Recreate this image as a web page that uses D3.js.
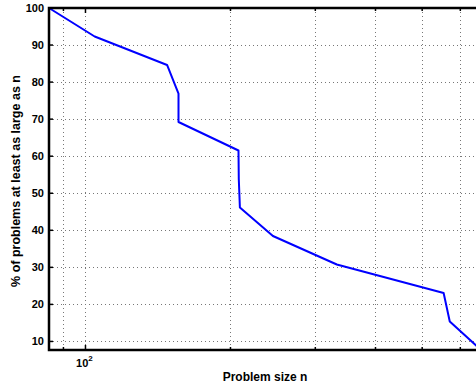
<!DOCTYPE html>
<html>
<head>
<meta charset="utf-8">
<script src="https://cdn.jsdelivr.net/npm/d3@7"></script>
<style>
  body { margin: 0; background: #fff; }
  text { font-family: "Liberation Sans", Arial, sans-serif; font-weight: bold; fill: #000; }
</style>
</head>
<body>
<script>
// problem size n vs % of problems at least that large
var problemSize = [84, 104.5, 147.7, 156, 156, 207.8, 208.1, 209.2, 245, 332.5, 554, 570.5, 663];
var percent = [100, 92.31, 84.62, 76.92, 69.23, 61.54, 53.85, 46.15, 38.46, 30.77, 23.08, 15.38, 7.69];
var yTicks = [10, 20, 30, 40, 50, 60, 70, 80, 90, 100];
var xGrid = [90, 100, 200, 300, 400, 500, 600];

window.onload = drawChart;

function drawChart(){
    var w = 476, h = 390;
    var left = 49, top = 8, bottom = 350;

    var svg = d3.select("body").append("svg")
        .attr("width", w)
        .attr("height", h);

    // log axis, about 481.7px per decade
    var xMin = 84, xMax = 663;
    var x = d3.scaleLog()
        .domain([xMin, xMax])
        .range([left, left + 481.7 * Math.log10(xMax / xMin)]);
    var y = d3.scaleLinear()
        .domain([7.69, 100])
        .range([bottom, top]);
    var right = x.range()[1];

    //grid
    var grid = svg.append("g")
        .attr("stroke", "#777")
        .attr("stroke-width", 1)
        .attr("stroke-dasharray", "1,3");
    grid.selectAll(".vg").data(xGrid).enter().append("line")
        .attr("x1", function(d){ return Math.round(x(d)) + 0.5; })
        .attr("x2", function(d){ return Math.round(x(d)) + 0.5; })
        .attr("y1", top).attr("y2", bottom);
    grid.selectAll(".hg").data(yTicks.filter(function(d){ return d < 100; })).enter().append("line")
        .attr("y1", function(d){ return Math.round(y(d)) + 0.5; })
        .attr("y2", function(d){ return Math.round(y(d)) + 0.5; })
        .attr("x1", left).attr("x2", right);

    // tick marks, pointing inward
    var ticks = svg.append("g").attr("stroke", "#000").attr("stroke-width", 1.5);
    ticks.selectAll(".yt").data(yTicks).enter().append("line")
        .attr("x1", left).attr("x2", left + 4)
        .attr("y1", function(d){ return y(d); })
        .attr("y2", function(d){ return y(d); });
    ticks.selectAll(".xb").data(xGrid).enter().append("line")
        .attr("x1", function(d){ return x(d); })
        .attr("x2", function(d){ return x(d); })
        .attr("y1", bottom).attr("y2", function(d){ return d == 100 ? bottom - 5 : bottom - 3; });
    ticks.selectAll(".xt").data(xGrid).enter().append("line")
        .attr("x1", function(d){ return x(d); })
        .attr("x2", function(d){ return x(d); })
        .attr("y1", top).attr("y2", function(d){ return d == 100 ? top + 5 : top + 3; });

    // the line
    var line = d3.line()
        .x(function(d, i){ return x(problemSize[i]); })
        .y(function(d){ return y(d); });
    svg.append("path")
        .datum(percent)
        .attr("fill", "none")
        .attr("stroke", "#0000ff")
        .attr("stroke-width", 2)
        .attr("stroke-linejoin", "round")
        .attr("d", line);

    // axes box
    svg.append("path")
        .attr("fill", "none")
        .attr("stroke", "#000")
        .attr("stroke-width", 2.5)
        .attr("d", "M" + (right + 5) + "," + top + "H" + left + "V" + bottom + "H" + (right + 5));

    // labels
    svg.selectAll(".yl").data(yTicks).enter().append("text")
        .attr("x", left - 5)
        .attr("y", function(d){ return y(d); })
        .attr("dy", "0.35em")
        .attr("text-anchor", "end")
        .attr("font-size", 11)
        .text(function(d){ return d; });

    var xl = svg.append("text")
        .attr("x", x(100) - 1)
        .attr("y", 367)
        .attr("text-anchor", "middle")
        .attr("font-size", 11);
    xl.append("tspan").text("10");
    xl.append("tspan").attr("dy", -6).attr("font-size", 8).text("2");

    svg.append("text")
        .attr("x", 265)
        .attr("y", 381)
        .attr("text-anchor", "middle")
        .attr("font-size", 12)
        .text("Problem size n");

    svg.append("text")
        .attr("transform", "translate(20,181) rotate(-90)")
        .attr("text-anchor", "middle")
        .attr("font-size", 12.5)
        .text("% of problems at least as large as n");
}
</script>
</body>
</html>
